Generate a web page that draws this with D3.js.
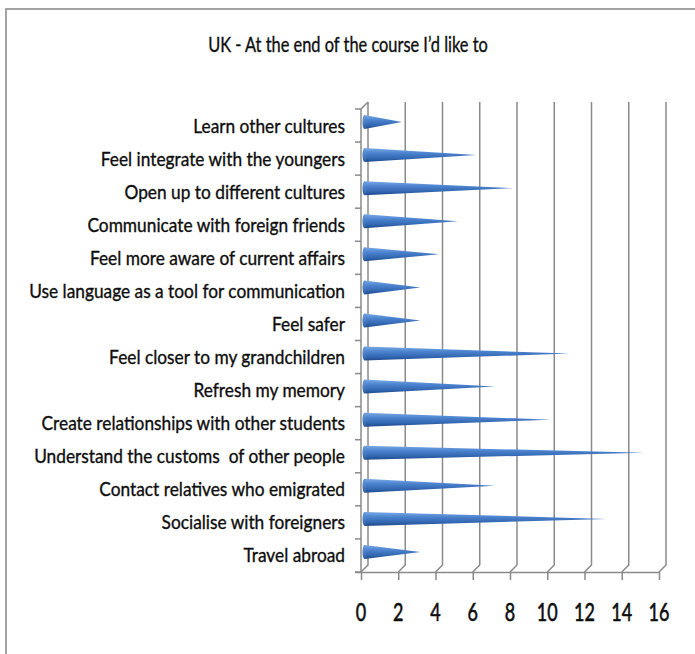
<!DOCTYPE html>
<html>
<head>
<meta charset="utf-8">
<script src="https://cdn.jsdelivr.net/npm/d3@7"></script>
<style>
  html, body { margin: 0; padding: 0; background: #fff; }
  svg { display: block; }
  text { font-family: Lato, "Open Sans", sans-serif; fill: #0d0d0d; stroke: #0d0d0d; stroke-width: 0.35px; }
</style>
</head>
<body>
<svg id="chart" width="695" height="654"></svg>
<script>
// Survey answers, listed top to bottom as shown
const categories = [
  "Learn other cultures",
  "Feel integrate with the youngers",
  "Open up to different cultures",
  "Communicate with foreign friends",
  "Feel more aware of current affairs",
  "Use language as a tool for communication",
  "Feel safer",
  "Feel closer to my grandchildren",
  "Refresh my memory",
  "Create relationships with other students",
  "Understand the customs  of other people",
  "Contact relatives who emigrated",
  "Socialise with foreigners",
  "Travel abroad"
];
const values = [2, 6, 8, 5, 4, 3, 3, 11, 7, 10, 15, 7, 13, 3];
const xTicks = [0, 2, 4, 6, 8, 10, 12, 14, 16];
const title = "UK - At the end of the course I\u2019d like to";

const svg = d3.select("#chart");
const W = 695, H = 654;

// Pseudo-3D depth offset of the back wall
const dx = 7, dy = -7;

const x = d3.scaleLinear().domain([0, 16]).range([361, 659]);
const y = d3.scaleBand().domain(categories).range([109, 572]).paddingInner(0).paddingOuter(0);
const yTop = 109, yBot = 572;

// The chart uses a narrow face: text is set in Lato and squeezed horizontally
function narrowGroup(parent, tx, ty, sx) {
  return parent.append("g").attr("transform", `translate(${tx},${ty}) scale(${sx},1)`);
}

// Outer frame (left and top edges)
svg.append("path")
  .attr("d", `M6,${H} L6,9 L${W},9`)
  .attr("fill", "none")
  .attr("stroke", "#a3a3a3")
  .attr("stroke-width", 2);

// Title
const tg = svg.append("g");
const tt = tg.append("text")
  .attr("x", 0).attr("y", 0)
  .attr("text-anchor", "middle")
  .attr("font-size", 21)
  .text(title);
const tw = tt.node().getComputedTextLength();
tg.attr("transform", `translate(348,52) scale(${280 / tw},1)`);

const gridColor = "#8a8a8a";

// Back wall gridlines with the floor edge folding forward
const grid = svg.append("g");
xTicks.forEach(t => {
  const fx = x(t);
  grid.append("path")
    .attr("d", `M${fx + dx},${yTop + dy} L${fx + dx},${yBot + dy} L${fx},${yBot}`)
    .attr("fill", "none")
    .attr("stroke", gridColor)
    .attr("stroke-width", 1.5);
});

// Front floor edge and value axis ticks
const xAxis = d3.axisBottom(x).tickValues(xTicks).tickSize(8).tickFormat(() => "");
const gx = svg.append("g").attr("transform", `translate(0,${yBot})`).call(xAxis);
gx.select(".domain").attr("stroke", gridColor).attr("stroke-width", 1.5)
  .attr("d", `M${x(0) - 6},0.5H${x(16)}`);
gx.selectAll(".tick line").attr("stroke", gridColor).attr("stroke-width", 1.5);

// Tick labels: tall, narrow digits
xTicks.forEach(t => {
  const g = narrowGroup(svg, x(t), 621, 0.72);
  g.append("text")
    .attr("text-anchor", "middle")
    .attr("font-size", 25)
    .style("stroke-width", "0.6px")
    .text(d3.format("d")(t));
});

// Category axis: front edge, top fold and band ticks
const gy = svg.append("g");
gy.append("path")
  .attr("d", `M${x(0)},${yBot} L${x(0)},${yTop} L${x(0) + dx},${yTop + dy}`)
  .attr("fill", "none").attr("stroke", gridColor).attr("stroke-width", 1.5);
const bounds = categories.map(c => y(c)).concat([yBot]);
bounds.forEach(b => {
  gy.append("line")
    .attr("x1", x(0) - 6).attr("x2", x(0))
    .attr("y1", b).attr("y2", b)
    .attr("stroke", gridColor).attr("stroke-width", 1.5);
});

// Category labels, right-aligned against the axis
const lg = svg.append("g");
lg.selectAll("text")
  .data(categories)
  .join("text")
  .attr("x", 0)
  .attr("y", d => y(d) + y.bandwidth() / 2)
  .attr("dy", "0.36em")
  .attr("text-anchor", "end")
  .attr("font-size", 19.5)
  .attr("xml:space", "preserve")
  .text(d => d);
const widest = d3.max(lg.selectAll("text").nodes(), n => n.getComputedTextLength());
lg.attr("transform", `translate(345,0) scale(${316 / widest},1)`);

// Cone gradient
const defs = svg.append("defs");
const grad = defs.append("linearGradient")
  .attr("id", "coneFill").attr("x1", 0).attr("y1", 0).attr("x2", 0).attr("y2", 1);
grad.append("stop").attr("offset", "0%").attr("stop-color", "#7aaae6");
grad.append("stop").attr("offset", "35%").attr("stop-color", "#4d84cf");
grad.append("stop").attr("offset", "75%").attr("stop-color", "#3165b0");
grad.append("stop").attr("offset", "100%").attr("stop-color", "#1e4a8a");

const capGrad = defs.append("linearGradient")
  .attr("id", "capFill").attr("x1", 0).attr("y1", 0).attr("x2", 0).attr("y2", 1);
capGrad.append("stop").attr("offset", "0%").attr("stop-color", "#6a9de0");
capGrad.append("stop").attr("offset", "100%").attr("stop-color", "#2c5ea6");

// Horizontal cones, centred at mid depth
const half = 7;
const midX = dx / 2, midY = dy / 2;
const cones = svg.append("g");
categories.forEach((c, i) => {
  const cy = y(c) + y.bandwidth() / 2 + midY;
  const x0 = x(0) + midX;
  const tip = x(values[i]) + midX;
  cones.append("path")
    .attr("d", `M${x0},${cy - half} L${tip},${cy} L${x0},${cy + half} Z`)
    .attr("fill", "url(#coneFill)");
  cones.append("ellipse")
    .attr("cx", x0).attr("cy", cy)
    .attr("rx", 2).attr("ry", half)
    .attr("fill", "url(#capFill)");
});
</script>
</body>
</html>
